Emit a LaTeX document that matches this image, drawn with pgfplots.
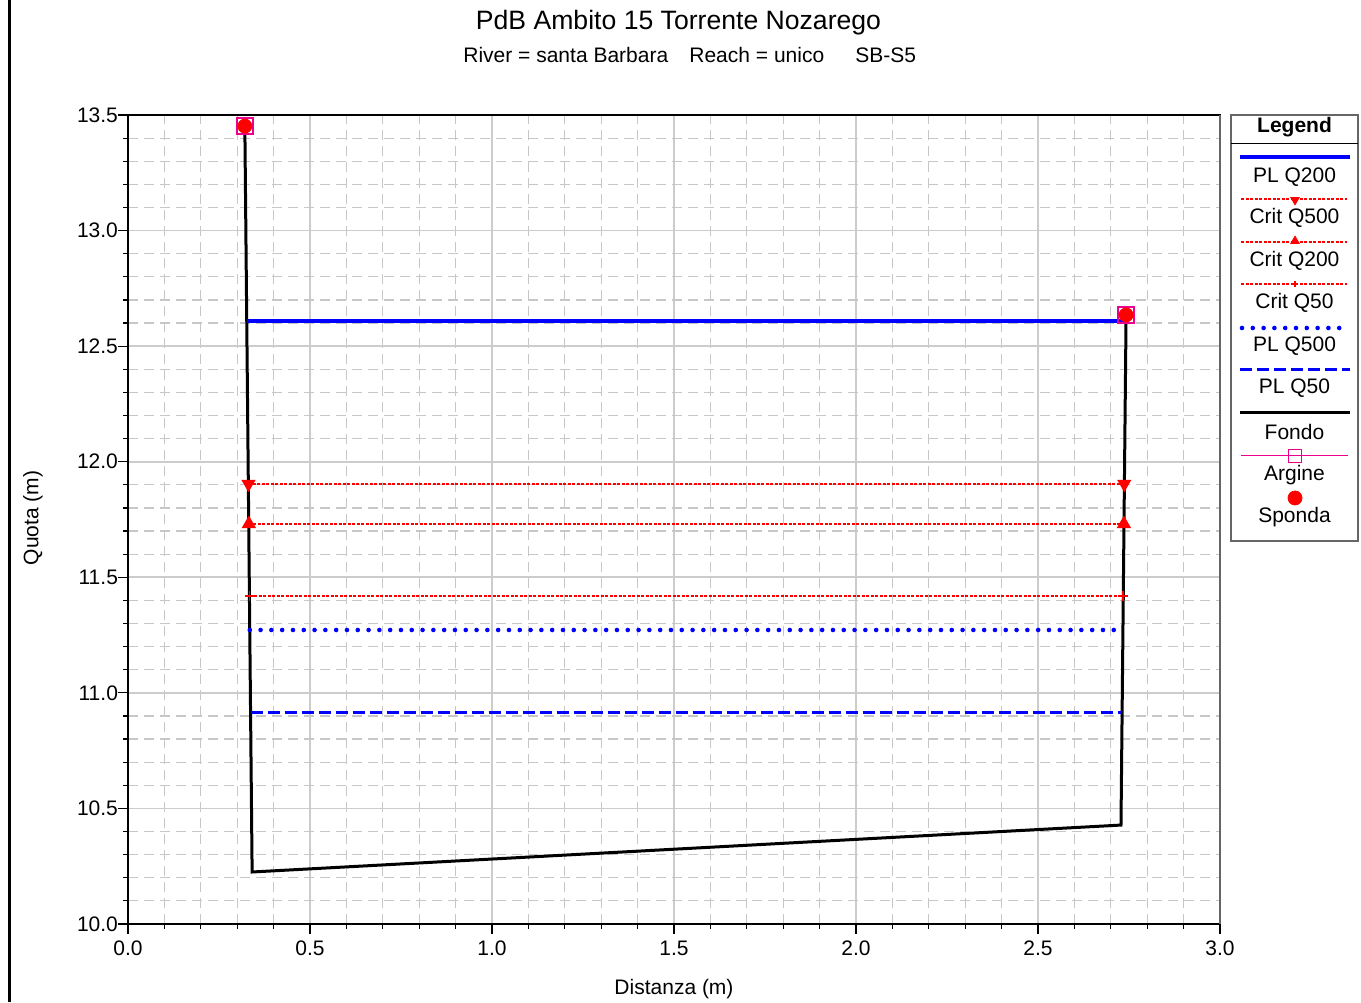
\documentclass[border=0pt]{standalone}
\usepackage{fontspec}
\setmainfont{Liberation Sans}
\usepackage{pgfplots}
\pgfplotsset{compat=1.18}
\newcommand{\fs}{\fontsize{10.5}{12}\selectfont}
\begin{document}
\begin{tikzpicture}
\begin{scope}[x=0.5pt, y=-0.5pt, shift={(0pt,501pt)}]
\path[use as bounding box] (0,0) rectangle (1361,1002);
\draw[black, line width=1.5pt] (9.5,0) -- (9.5,1002);
\node[font=\fontsize{13.3}{16}\selectfont] at (678.5,23) {PdB Ambito 15 Torrente Nozarego};
\node[font=\fs, anchor=west, inner sep=0pt] at (463,55) {River = santa Barbara};
\node[font=\fs, anchor=west, inner sep=0pt] at (689,55) {Reach = unico};
\node[font=\fs, anchor=west, inner sep=0pt] at (855,55) {SB-S5};
\node[font=\fs] at (674,989) {Distanza (m)};
\node[font=\fs, rotate=90] at (33,518) {Quota (m)};
% legend
\draw[black!60, line width=0.6pt] (1231,115) rectangle (1358,541);
\draw[black, line width=0.5pt] (1231,144) -- (1358,144);
\node[font=\bfseries\fs] at (1294.5,127) {Legend};
\draw[blue, line width=1.75pt] (1240,157) -- (1350,157);
\node[font=\fs] at (1294.5,177) {PL Q200};
\draw[red, line width=0.75pt, dash pattern=on 1.5pt off 0.75pt] (1241,199) -- (1347,199);
\draw[red] plot[only marks, mark=triangle*, mark size=2.4pt, mark options={rotate=180}] coordinates {(1295,200)};
\node[font=\fs] at (1294.5,218) {Crit Q500};
\draw[red, line width=0.75pt, dash pattern=on 1.5pt off 0.75pt] (1241,242) -- (1347,242);
\draw[red] plot[only marks, mark=triangle*, mark size=2.4pt] coordinates {(1295,241)};
\node[font=\fs] at (1294.5,261) {Crit Q200};
\draw[red, line width=0.75pt, dash pattern=on 1.5pt off 0.75pt] (1241,284) -- (1347,284);
\draw[red, line width=0.6pt] plot[only marks, mark=+, mark size=1.6pt] coordinates {(1295,284)};
\node[font=\fs] at (1294.5,303) {Crit Q50};
\draw[blue, line width=2.3pt, line cap=round, dash pattern=on 0pt off 5.4pt] (1242,328) -- (1348,328);
\node[font=\fs] at (1294.5,346) {PL Q500};
\draw[blue, line width=1.5pt, dash pattern=on 6pt off 2.5pt] (1240,370) -- (1350,370);
\node[font=\fs] at (1294.5,388) {PL Q50};
\draw[black, line width=1.5pt] (1240,413) -- (1350,413);
\node[font=\fs] at (1294.5,432) {Fondo};
\draw[magenta, line width=0.5pt] (1241,456) -- (1348,456);
\draw[magenta, line width=0.6pt, fill=white] plot[only marks, mark=square, mark size=3.3pt] coordinates {(1295,456)};
\node[font=\fs] at (1294.5,475) {Argine};
\draw[red] plot[only marks, mark=*, mark size=3.5pt] coordinates {(1295,498)};
\node[font=\fs] at (1294.5,517) {Sponda};
\end{scope}
\begin{axis}[
  at={(64pt,39pt)}, anchor=south west,
  width=546pt, height=404.5pt, scale only axis,
  xmin=0, xmax=3, ymin=10, ymax=13.5,
  xtick={0,0.5,1,1.5,2,2.5,3},
  ytick={10,10.5,11,11.5,12,12.5,13,13.5},
  minor x tick num=4, minor y tick num=4,
  xtick pos=bottom, ytick pos=left,
  grid=both,
  major grid style={draw=black!20, line width=0.8pt},
  minor grid style={draw=black!22, line width=0.6pt, dash pattern=on 5pt off 3pt},
  tick align=outside,
  major tick length=5pt, minor tick length=2.5pt,
  tick style={black, line width=0.6pt},
  axis line style={black, line width=0.6pt},
  /pgf/number format/assume math mode=true,
  xticklabel style={font=\fs, /pgf/number format/fixed, /pgf/number format/fixed zerofill, /pgf/number format/precision=1},
  yticklabel style={font=\fs, xshift=3.5pt, /pgf/number format/fixed, /pgf/number format/fixed zerofill, /pgf/number format/precision=1},
  clip=false,
]
\addplot[black, line width=1.5pt] coordinates {(0.321,13.452) (0.341,10.225) (2.728,10.428) (2.742,12.635)};
\addplot[blue, line width=1.75pt] coordinates {(0.326,12.609) (2.742,12.609)};
\addplot[red, line width=0.75pt, dash pattern=on 1.5pt off 0.75pt, mark=triangle*, mark size=3.4pt, mark options={solid, rotate=180, fill=red}] coordinates {(0.331,11.904) (2.737,11.904)};
\addplot[red, line width=0.75pt, dash pattern=on 1.5pt off 0.75pt, mark=triangle*, mark size=3.4pt, mark options={solid, fill=red}] coordinates {(0.332,11.731) (2.736,11.731)};
\addplot[red, line width=0.75pt, dash pattern=on 1.5pt off 0.75pt, mark=+, mark size=2.3pt, mark options={solid, line width=0.8pt}] coordinates {(0.334,11.419) (2.734,11.419)};
\addplot[blue, line width=2.3pt, line cap=round, dash pattern=on 0pt off 5.4pt] coordinates {(0.3345,11.272) (2.7334,11.272)};
\addplot[blue, line width=1.5pt, dash pattern=on 6pt off 2.5pt] coordinates {(0.3367,10.917) (2.7311,10.917)};
\addplot[only marks, magenta, mark=square, mark size=4pt, mark options={line width=0.75pt}] coordinates {(0.321,13.452) (2.742,12.635)};
\addplot[only marks, red, mark=*, mark size=3.5pt] coordinates {(0.321,13.452) (2.742,12.635)};
\draw[black!60, line width=1pt] (rel axis cs:1,0) -- (rel axis cs:1,1);
\end{axis}
\end{tikzpicture}
\end{document}
